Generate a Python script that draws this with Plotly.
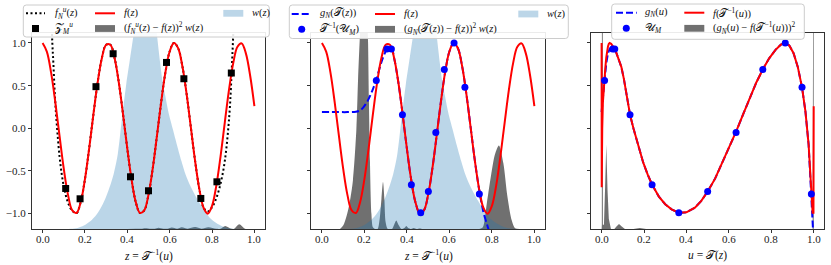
import plotly.graph_objects as go

# ---------------- data ----------------
z_grid = [0.00, 0.02, 0.04, 0.06, 0.08, 0.10, 0.12, 0.14, 0.16, 0.18,
          0.20, 0.22, 0.24, 0.26, 0.28, 0.30, 0.32, 0.34, 0.36, 0.38,
          0.40, 0.42, 0.44, 0.46, 0.48, 0.50, 0.52, 0.54, 0.56, 0.58,
          0.60, 0.62, 0.64, 0.66, 0.68, 0.70, 0.72, 0.74, 0.76, 0.78,
          0.80, 0.82, 0.84, 0.86, 0.88, 0.90, 0.92, 0.94, 0.96, 0.98, 1.00]
f_vals = [0.999, 0.899, 0.655, 0.307, -0.090, -0.473, -0.780, -0.963, -0.992, -0.863,
          -0.596, -0.234, 0.165, 0.538, 0.825, 0.980, 0.979, 0.822, 0.534, 0.161,
          -0.239, -0.600, -0.865, -0.992, -0.961, -0.777, -0.469, -0.086, 0.311, 0.658,
          0.900, 0.999, 0.938, 0.727, 0.401, 0.010, -0.382, -0.713, -0.931, -1.000,
          -0.909, -0.674, -0.331, 0.065, 0.450, 0.764, 0.955, 0.995, 0.875, 0.616, 0.259]

# f_N^u(z) (dotted, left panel)
z_fNu = [0.036, 0.041, 0.046, 0.051, 0.056, 0.062, 0.070, 0.080, 0.090, 0.100,
         0.110, 0.120, 0.130, 0.140, 0.16, 0.18, 0.20, 0.22, 0.24, 0.26,
         0.28, 0.30, 0.32, 0.34, 0.36, 0.38, 0.40, 0.42, 0.44, 0.46,
         0.48, 0.50, 0.52, 0.54, 0.56, 0.58, 0.60, 0.62, 0.64, 0.66,
         0.68, 0.70, 0.72, 0.74, 0.76, 0.78, 0.80, 0.82, 0.835, 0.848,
         0.858, 0.866, 0.873, 0.879, 0.885, 0.890, 0.895, 0.900, 0.905, 0.910]
fNu_vals = [1.9, 1.4, 1.0, 0.76, 0.48, 0.22, -0.05, -0.33, -0.53, -0.68,
            -0.79, -0.87, -0.93, -0.965, -0.995, -0.863, -0.596, -0.234, 0.165, 0.538,
            0.825, 0.980, 0.979, 0.822, 0.534, 0.161, -0.239, -0.600, -0.865, -0.992,
            -0.961, -0.777, -0.469, -0.086, 0.311, 0.658, 0.900, 0.999, 0.938, 0.727,
            0.401, 0.010, -0.382, -0.713, -0.93, -0.975, -0.925, -0.82, -0.70, -0.56,
            -0.42, -0.27, -0.10, 0.07, 0.28, 0.52, 0.80, 1.10, 1.45, 1.9]

# Z_M^u nodes (black squares)
z_sq = [0.109, 0.177, 0.252, 0.333, 0.415, 0.500, 0.585, 0.667, 0.747, 0.823, 0.891]
sq_vals = [-0.705, -0.826, 0.488, 0.874, -0.568, -0.732, 0.772, 0.581, -0.822, -0.627, 0.648]

# weight w(z) (height above the axis floor)
z_w = [0.10, 0.135, 0.165, 0.195, 0.225, 0.255, 0.275, 0.295, 0.315, 0.335,
       0.355, 0.375, 0.395, 0.41, 0.425, 0.44, 0.455, 0.475, 0.495, 0.515,
       0.535, 0.55, 0.565, 0.58, 0.595, 0.615, 0.635, 0.655, 0.675, 0.695,
       0.715, 0.735, 0.76, 0.79, 0.82, 0.85, 0.88, 0.92]
w_vals = [0.0, 0.003, 0.012, 0.04, 0.09, 0.17, 0.25, 0.35, 0.48, 0.64,
          0.88, 1.3, 1.7, 1.95, 2.2, 2.45, 2.75, 3.1, 3.4, 3.0,
          2.4, 2.05, 1.75, 1.55, 1.36, 1.17, 0.98, 0.8, 0.64, 0.52,
          0.42, 0.33, 0.23, 0.13, 0.07, 0.03, 0.01, 0.0]

# (f_N^u(z) - f(z))^2 w(z)
z_err1 = [0.40, 0.44, 0.465, 0.485, 0.51, 0.53, 0.547, 0.57, 0.59, 0.61,
          0.635, 0.657, 0.685, 0.72, 0.75, 0.783, 0.82, 0.84, 0.862, 0.89,
          0.905, 0.928, 0.955, 0.975]
err1_vals = [0.0, 0.002, 0.002, 0.01, 0.002, 0.003, 0.015, 0.003, 0.004, 0.018,
             0.004, 0.02, 0.004, 0.022, 0.004, 0.02, 0.002, 0.003, 0.035, 0.003,
             0.004, 0.055, 0.004, 0.0]

# g_N(T(z)) (dashed, middle panel)
z_gN = [0.0, 0.04, 0.08, 0.12, 0.16, 0.18, 0.193, 0.205, 0.217, 0.23,
        0.24, 0.256, 0.272, 0.288, 0.306, 0.327, 0.34, 0.36, 0.38, 0.40,
        0.42, 0.44, 0.46, 0.48, 0.50, 0.52, 0.54, 0.56, 0.58, 0.60,
        0.62, 0.64, 0.66, 0.68, 0.70, 0.72, 0.74, 0.75, 0.76, 0.77,
        0.78, 0.79, 0.80]
gN_vals = [0.19, 0.19, 0.19, 0.19, 0.195, 0.21, 0.24, 0.28, 0.33, 0.40,
           0.46, 0.57, 0.71, 0.83, 0.92, 0.94, 0.822, 0.534, 0.161, -0.239,
           -0.600, -0.865, -0.992, -0.961, -0.777, -0.469, -0.086, 0.311, 0.658, 0.900,
           0.999, 0.938, 0.727, 0.401, 0.010, -0.382, -0.72, -0.86, -0.98, -1.07,
           -1.15, -1.24, -1.40]

# nodes: T^{-1}(U_M) in z, U_M in u, and their values
z_nodes = [0.256, 0.306, 0.327, 0.379, 0.421, 0.465, 0.501, 0.536, 0.576, 0.622, 0.673, 0.741]
u_nodes = [0.014, 0.052, 0.062, 0.134, 0.238, 0.364, 0.500, 0.634, 0.760, 0.866, 0.945, 0.989]
node_vals = [0.56, 0.93, 0.93, 0.16, -0.66, -0.99, -0.74, -0.05, 0.69, 1.0, 0.48, -0.77]

# (g_N(T(z)) - f(z))^2 w(z)
z_err2 = [0.085, 0.10, 0.115, 0.13, 0.146, 0.162, 0.17, 0.178, 0.186, 0.195,
          0.205, 0.212, 0.217, 0.221, 0.226, 0.233, 0.24, 0.25, 0.262, 0.272,
          0.28, 0.2875, 0.294, 0.30, 0.31, 0.33, 0.34, 0.35, 0.36, 0.375,
          0.39, 0.397, 0.405, 0.42, 0.432, 0.445, 0.46, 0.475, 0.49, 0.74,
          0.757, 0.776, 0.80, 0.815, 0.833, 0.854, 0.873, 0.893, 0.909, 0.93]
err2_vals = [0.0, 0.04, 0.145, 0.30, 0.57, 1.16, 1.75, 2.22, 2.6, 2.85,
             2.75, 2.5, 2.2, 1.55, 0.8, 0.18, 0.02, 0.0, 0.0, 0.12,
             0.35, 0.55, 0.35, 0.08, 0.0, 0.0, 0.05, 0.1, 0.05, 0.0,
             0.015, 0.035, 0.015, 0.0, 0.012, 0.0, 0.006, 0.0, 0.0, 0.0,
             0.02, 0.30, 0.69, 0.88, 0.98, 0.77, 0.38, 0.105, 0.01, 0.0]

# f(T^{-1}(u)) (right panel)
u_f = [0.0, 0.0005, 0.003, 0.006, 0.010, 0.014, 0.018, 0.022, 0.026, 0.030,
       0.034, 0.038, 0.045, 0.052, 0.062, 0.070, 0.080, 0.093, 0.105, 0.120,
       0.134, 0.150, 0.175, 0.196, 0.217, 0.238, 0.27, 0.30, 0.33, 0.364,
       0.40, 0.44, 0.47, 0.50, 0.535, 0.566, 0.60, 0.634, 0.67, 0.70,
       0.73, 0.76, 0.79, 0.82, 0.845, 0.866, 0.885, 0.905, 0.925, 0.945,
       0.961, 0.976, 0.989, 0.995, 0.999, 1.0]
fu_vals = [1.0, -0.69, 0.0, 0.30, 0.48, 0.59, 0.72, 0.83, 0.91, 0.96,
           0.99, 1.0, 0.99, 0.965, 0.93, 0.88, 0.82, 0.72, 0.58, 0.37,
           0.16, 0.0, -0.22, -0.40, -0.54, -0.66, -0.80, -0.89, -0.95, -0.99,
           -0.985, -0.93, -0.85, -0.74, -0.59, -0.42, -0.24, -0.04, 0.18, 0.37,
           0.54, 0.69, 0.82, 0.92, 0.98, 1.00, 0.97, 0.88, 0.72, 0.48,
           0.20, -0.19, -0.77, -0.99, -0.99, 0.26]

# g_N(u) (dashed, right panel)
u_g = [0.0, 0.004, 0.008, 0.014, 0.022, 0.030, 0.038, 0.045, 0.052, 0.062,
       0.070, 0.080, 0.093, 0.105, 0.120, 0.134, 0.150, 0.175, 0.196, 0.217,
       0.238, 0.27, 0.30, 0.33, 0.364, 0.40, 0.44, 0.47, 0.50, 0.535,
       0.566, 0.60, 0.634, 0.67, 0.70, 0.73, 0.76, 0.79, 0.82, 0.845,
       0.866, 0.885, 0.905, 0.925, 0.945, 0.961, 0.976, 0.989, 0.995, 0.998, 1.0]
gu_vals = [0.19, 0.33, 0.44, 0.57, 0.76, 0.88, 0.93, 0.94, 0.935, 0.925,
           0.88, 0.82, 0.72, 0.58, 0.37, 0.16, 0.0, -0.22, -0.40, -0.54,
           -0.66, -0.80, -0.89, -0.95, -0.99, -0.985, -0.93, -0.85, -0.74, -0.59,
           -0.42, -0.24, -0.04, 0.18, 0.37, 0.54, 0.69, 0.82, 0.92, 0.98,
           1.00, 0.97, 0.88, 0.72, 0.48, 0.20, -0.19, -0.77, -0.99, -1.12, -1.35]

# (g_N(u) - f(T^{-1}(u)))^2
u_err = [0.0, 0.001, 0.0015, 0.0055, 0.006, 0.011, 0.016, 0.022, 0.028, 0.034,
         0.044, 0.06, 0.07, 0.082, 0.095, 0.11, 0.15, 0.18, 0.21, 0.995,
         0.9975, 1.0, 1.0]
erru_vals = [0.0, 0.05, 3.0, 3.0, 0.05, 0.05, 0.45, 0.99, 0.45, 0.12,
             0.0, 0.0, 0.03, 0.06, 0.03, 0.0, 0.0, 0.012, 0.0, 0.0,
             3.0, 3.0, 0.0]

x_tick_vals = [0.0, 0.2, 0.4, 0.6, 0.8, 1.0]
x_tick_text = ["0.0", "0.2", "0.4", "0.6", "0.8", "1.0"]
y_tick_vals = [-1.0, -0.5, 0.0, 0.5, 1.0]
y_tick_text = ["\u22121.0", "\u22120.5", "0.0", "0.5", "1.0"]

# ---------------- styling / layout ----------------
W, H = 831, 265
YMIN, YMAX = -1.18, 1.117
XR = [-0.05, 1.05]
SERIF = "Liberation Serif, DejaVu Serif, serif"
RED = "#ff0000"
BLUE = "#0000ff"
WFILL = "rgba(31,119,180,0.30)"
GFILL = "rgba(64,64,64,0.75)"
AX = "#333333"

fig = go.Figure()


def ax(i):
    return ("x" if i == 1 else "x%d" % i), ("y" if i == 1 else "y%d" % i)


def add_fill(i, xs, hs, color, shape="spline"):
    xa, ya = ax(i)
    fig.add_trace(go.Scatter(x=xs, y=[YMIN + h for h in hs], xaxis=xa, yaxis=ya,
                             mode="lines", fill="toself", fillcolor=color,
                             line=dict(width=0, shape=shape, smoothing=0.8),
                             hoverinfo="skip", showlegend=False))


def add_line(i, xs, ys, color, dash="solid", shape="spline", width=2):
    xa, ya = ax(i)
    fig.add_trace(go.Scatter(x=xs, y=ys, xaxis=xa, yaxis=ya, mode="lines",
                             line=dict(color=color, width=width, dash=dash, shape=shape),
                             hoverinfo="skip", showlegend=False))


def add_markers(i, xs, ys, color, symbol):
    xa, ya = ax(i)
    fig.add_trace(go.Scatter(x=xs, y=ys, xaxis=xa, yaxis=ya, mode="markers",
                             marker=dict(color=color, size=7, symbol=symbol, line=dict(width=0)),
                             hoverinfo="skip", showlegend=False))


# panel 1
add_fill(1, z_err1, err1_vals, GFILL)
add_fill(1, z_w, w_vals, WFILL)
add_line(1, z_fNu, fNu_vals, "black", dash="2px,2.5px")
add_line(1, z_grid, f_vals, RED)
add_markers(1, z_sq, sq_vals, "black", "square")

# panel 2
add_fill(2, z_err2, err2_vals, GFILL)
add_fill(2, z_w, w_vals, WFILL)
add_line(2, z_gN, gN_vals, BLUE, dash="7px,3px")
add_line(2, z_grid, f_vals, RED)
add_markers(2, z_nodes, node_vals, BLUE, "circle")

# panel 3
add_fill(3, u_err, erru_vals, GFILL, shape="linear")
add_line(3, u_g, gu_vals, BLUE, dash="7px,3px", shape="linear")
add_line(3, u_f, fu_vals, RED, shape="linear")
add_markers(3, u_nodes, node_vals, BLUE, "circle")

shapes = []
annos = []


def px(x):
    return x / W


def py(y):
    return 1 - y / H


# axes
x_doms = [(32, 265), (311.3, 545), (591, 824.3)]
y_dom = [1 - 229 / H, 1 - 33 / H]
tickfont = dict(family=SERIF, size=11, color="#222")
for k, (a, b) in enumerate(x_doms, start=1):
    xa, ya = ax(k)
    xkey = "xaxis" if k == 1 else "xaxis%d" % k
    ykey = "yaxis" if k == 1 else "yaxis%d" % k
    fig.layout[xkey] = dict(domain=[a / W, b / W], range=XR, anchor=ya,
                            tickvals=x_tick_vals, ticktext=x_tick_text,
                            showticklabels=False,
                            ticks="outside", ticklen=3, tickwidth=1, tickcolor=AX,
                            showline=True, mirror=True, linecolor=AX, linewidth=1,
                            showgrid=False, zeroline=False, fixedrange=True)
    fig.layout[ykey] = dict(domain=y_dom, range=[YMIN, YMAX], anchor=xa,
                            tickvals=y_tick_vals, ticktext=y_tick_text,
                            showticklabels=(k == 1),
                            ticks="outside", ticklen=3, tickwidth=1, tickcolor=AX,
                            showline=True, mirror=True, linecolor=AX, linewidth=1,
                            showgrid=False, zeroline=False, tickfont=tickfont,
                            fixedrange=True)
    # x tick labels placed through the axis' own data scale
    for v, t in zip(x_tick_vals, x_tick_text):
        annos.append(dict(x=v, xref=xa, y=py(238.5), yref="paper", text=t, showarrow=False,
                          xanchor="center", yanchor="middle", font=tickfont))


def box(x0, y0, x1, y1, r=3):
    rx, ry = r / W, r / H
    X0, X1, Y0, Y1 = px(x0), px(x1), py(y1), py(y0)
    path = ("M {a},{Y0} L {b},{Y0} Q {X1},{Y0} {X1},{c} L {X1},{d} Q {X1},{Y1} {b},{Y1} "
            "L {a},{Y1} Q {X0},{Y1} {X0},{d} L {X0},{c} Q {X0},{Y0} {a},{Y0} Z").format(
        a=X0 + rx, b=X1 - rx, c=Y0 + ry, d=Y1 - ry, X0=X0, X1=X1, Y0=Y0, Y1=Y1)
    shapes.append(dict(type="path", path=path, xref="paper", yref="paper",
                       fillcolor="rgba(255,255,255,0.9)", line=dict(color="#cccccc", width=1),
                       layer="above"))


def gl_line(x0, x1, yc, color, dash="solid"):
    shapes.append(dict(type="line", xref="paper", yref="paper", x0=px(x0), x1=px(x1),
                       y0=py(yc), y1=py(yc), line=dict(color=color, width=2, dash=dash),
                       layer="above"))


def gl_patch(x0, x1, yc, color):
    shapes.append(dict(type="rect", xref="paper", yref="paper", x0=px(x0), x1=px(x1),
                       y0=py(yc + 3.4), y1=py(yc - 3.4), fillcolor=color,
                       line=dict(width=0), layer="above"))


def gl_square(xc, yc, color):
    shapes.append(dict(type="rect", xref="paper", yref="paper", x0=px(xc - 3.5), x1=px(xc + 3.5),
                       y0=py(yc + 3.5), y1=py(yc - 3.5), fillcolor=color,
                       line=dict(width=0), layer="above"))


def gl_dot(xc, yc, color):
    shapes.append(dict(type="circle", xref="paper", yref="paper", x0=px(xc - 3.5), x1=px(xc + 3.5),
                       y0=py(yc + 3.5), y1=py(yc - 3.5), fillcolor=color,
                       line=dict(width=0), layer="above"))


def text(x, y, s, size=10.5, anchor="left"):
    annos.append(dict(x=px(x), y=py(y), xref="paper", yref="paper", text=s, showarrow=False,
                      xanchor=anchor, yanchor="middle", font=dict(family=SERIF, size=size, color="#111")))


T = "\U0001D4AF"
Z = "\U0001D4B5"
U = "\U0001D4B0"
LEGW = "rgb(188,214,232)"
LEGG = "rgb(112,112,112)"

# legend panel 1
box(23.3, 5, 269.3, 37)
r1, r2 = 13.3, 28.5
gl_line(26, 45, r1, "black", dash="2px,2.5px")
text(53, r1, "<i>f</i><sub><i>N</i></sub><sup><i>u</i></sup>(<i>z</i>)")
gl_square(35.5, r2, "black")
text(53, r2, Z + "<sub><i>M</i></sub><sup><i>u</i></sup>")
gl_line(95, 115, r1, RED)
text(121.7, r1, "<i>f</i>(<i>z</i>)")
gl_patch(95, 115, r2, LEGG)
text(121.7, r2, "(<i>f</i><sub><i>N</i></sub><sup><i>u</i></sup>(<i>z</i>) \u2212 <i>f</i>(<i>z</i>))<sup>2</sup> <i>w</i>(<i>z</i>)")
gl_patch(223.3, 243.3, r1, LEGW)
text(250, r1, "<i>w</i>(<i>z</i>)")

# legend panel 2
box(289.3, 5, 568.3, 38.5)
r1, r2 = 14, 29.3
gl_line(291.7, 311.7, r1, BLUE, dash="7px,3px")
text(318.3, r1, "<i>g</i><sub><i>N</i></sub>(" + T + "(<i>z</i>))")
gl_dot(301.7, r2, BLUE)
text(318.3, r2, T + "<sup>\u22121</sup>(" + U + "<sub><i>M</i></sub>)")
gl_line(375, 395, r1, RED)
text(401.7, r1, "<i>f</i>(<i>z</i>)")
gl_patch(375, 395, r2, LEGG)
text(401.7, r2, "(<i>g</i><sub><i>N</i></sub>(" + T + "(<i>z</i>)) \u2212 <i>f</i>(<i>z</i>))<sup>2</sup> <i>w</i>(<i>z</i>)")
gl_patch(518.3, 538.3, r1, LEGW)
text(545, r1, "<i>w</i>(<i>z</i>)")

# legend panel 3
box(611.7, 4, 804.3, 39.3)
r1, r2 = 12.7, 28.3
gl_line(616, 636.7, r1, BLUE, dash="7px,3px")
text(643.3, r1, "<i>g</i><sub><i>N</i></sub>(<i>u</i>)")
gl_dot(626.3, r2, BLUE)
text(643.3, r2, U + "<sub><i>M</i></sub>")
gl_line(684.3, 704.3, r1, RED)
text(711, r1, "<i>f</i>(" + T + "<sup>\u22121</sup>(<i>u</i>))")
gl_patch(684.3, 704.3, r2, LEGG)
text(711, r2, "(<i>g</i><sub><i>N</i></sub>(<i>u</i>) \u2212 <i>f</i>(" + T + "<sup>\u22121</sup>(<i>u</i>)))<sup>2</sup>")

# axis titles
text(148.5, 255, "<i>z</i> = " + T + "<sup>\u22121</sup>(<i>u</i>)", size=11.5, anchor="center")
text(428.2, 255, "<i>z</i> = " + T + "<sup>\u22121</sup>(<i>u</i>)", size=11.5, anchor="center")
text(707.6, 255, "<i>u</i> = " + T + "(<i>z</i>)", size=11.5, anchor="center")

fig.update_layout(width=W, height=H, margin=dict(l=0, r=0, t=0, b=0),
                  paper_bgcolor="white", plot_bgcolor="white", showlegend=False,
                  shapes=shapes, annotations=annos)

# remove the default 8px page margin so the figure sits at the window origin
fig.write_html("out.html", config={"displayModeBar": False, "staticPlot": True},
               post_script="document.body.style.margin='0';document.body.style.overflow='hidden';")
